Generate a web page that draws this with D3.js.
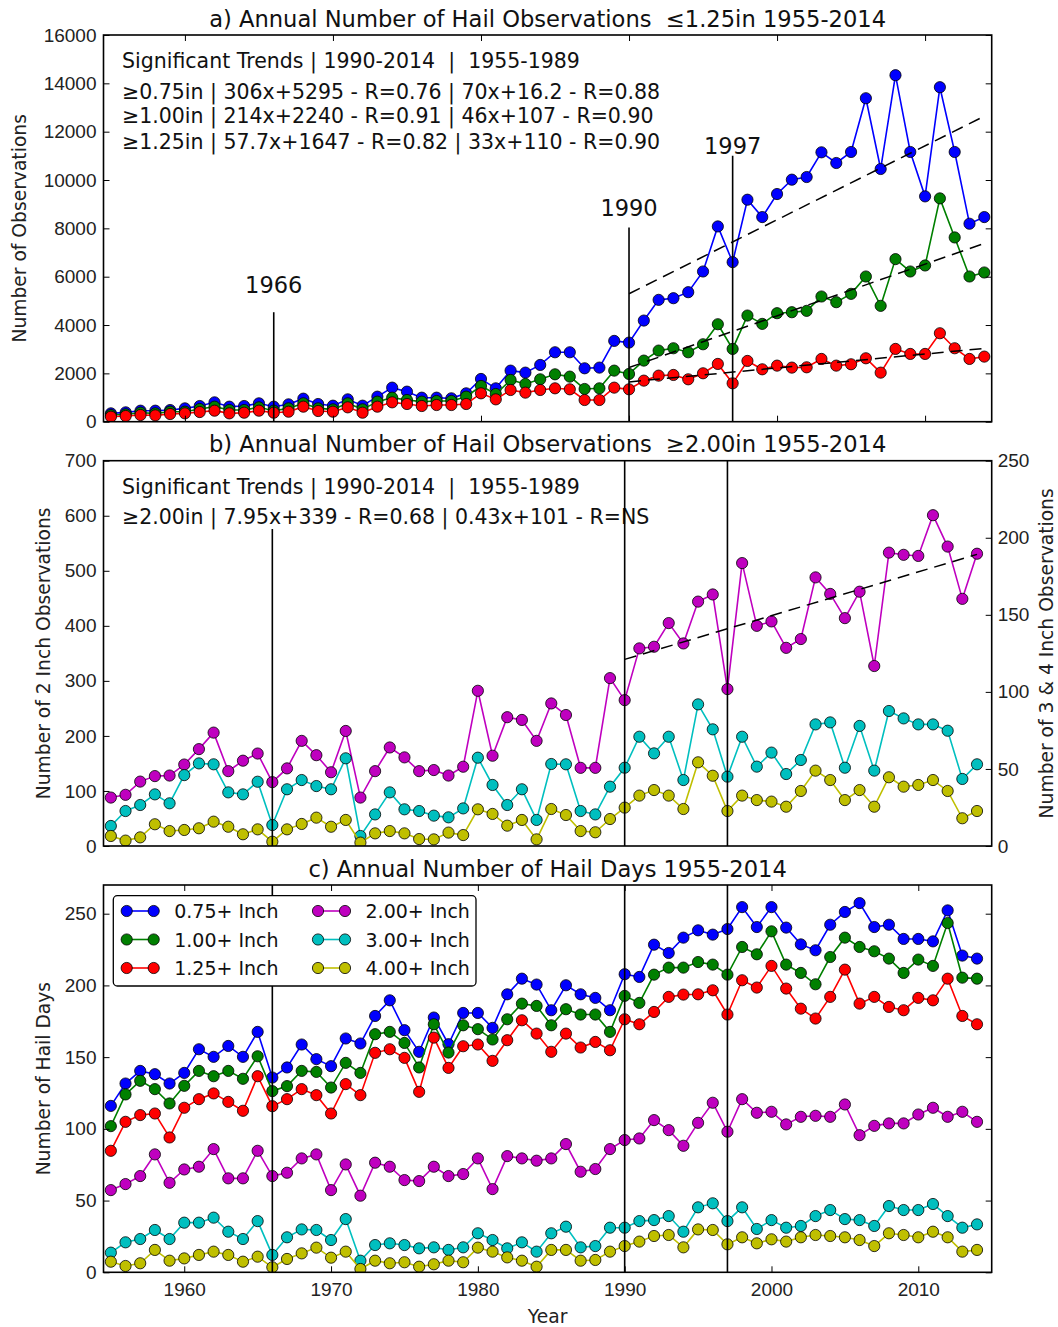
<!DOCTYPE html>
<html lang="en">
<head>
<meta charset="UTF-8">
<title>Annual Hail Observations 1955-2014</title>
<script src="https://d3js.org/d3.v7.min.js"></script>
<style>
  body { margin: 0; background: #fff; }
  svg { font-family: "DejaVu Sans", sans-serif; }
  .tick text { font-size: 19px; fill: #222; }
  .tick line { stroke: #000; stroke-width: 1; }
</style>
</head>
<body>
<div id="chart"></div>
<script>
// ---- data ----
const years = [1955,1956,1957,1958,1959,1960,1961,1962,1963,1964,
  1965,1966,1967,1968,1969,1970,1971,1972,1973,1974,
  1975,1976,1977,1978,1979,1980,1981,1982,1983,1984,
  1985,1986,1987,1988,1989,1990,1991,1992,1993,1994,
  1995,1996,1997,1998,1999,2000,2001,2002,2003,2004,
  2005,2006,2007,2008,2009,2010,2011,2012,2013,2014];

// a) observations
const obs075 = [345,387,456,456,483,552,649,801,622,649,
  760,622,718,953,732,663,925,663,1036,1409,
  1243,994,994,967,1174,1768,1381,2113,2030,2348,
  2873,2873,2210,2238,3343,3273,4185,5041,5110,5359,
  6215,8080,6602,9185,8467,9420,10014,10124,11146,10704,
  11160,13384,10456,14337,11160,9323,13840,11160,8191,8467];
const obs100 = [276,304,373,345,414,414,525,622,483,483,
  594,456,552,760,552,511,760,511,829,994,
  898,829,856,856,1036,1478,1146,1727,1561,1754,
  1961,1865,1354,1381,2113,1975,2528,2942,3039,2873,
  3204,4033,3011,4392,4047,4489,4530,4586,5180,4945,
  5290,6008,4793,6727,6215,6464,9240,7624,6008,6174];
const obs125 = [207,235,276,262,318,345,400,456,345,373,
  456,373,414,622,442,414,594,373,622,801,
  732,649,690,690,732,1174,925,1312,1202,1312,
  1381,1340,898,898,1409,1340,1699,1906,1934,1754,
  2003,2390,1588,2514,2168,2320,2238,2251,2597,2320,
  2376,2624,2030,3011,2804,2804,3660,3039,2597,2693];

// b) large hail observations (2in on left axis, 3 & 4in on right axis)
const obs200 = [88,93,117,127,128,148,176,206,136,155,
  168,116,141,191,165,134,209,88,136,179,
  161,136,138,128,144,282,164,234,229,191,
  259,238,142,142,305,265,359,362,405,368,
  444,457,285,514,400,408,360,376,488,458,
  414,462,327,533,529,527,601,544,449,531];
const obs300 = [13,22.7,26.6,33.5,27.7,46,53.6,53,34.8,33.5,
  41.7,13.6,36.8,42.8,38.9,36.8,56.9,6.5,20.5,34.8,
  23.8,22.7,19.7,18.6,24.4,57.3,39.6,26.6,36.8,16.9,
  53.2,53,22.7,20.5,38.5,50.8,70.9,60.1,70.9,42.8,
  91.9,75.7,45,70.9,51.5,60.6,46.7,55.8,78.9,80.2,
  50.8,77.9,48.9,87.6,82.8,78.9,78.9,74.8,43.5,53];
const obs400 = [6.5,3.5,5.6,14.1,9.7,10.4,11.5,15.8,12.5,7.6,
  10.8,2.8,10.8,14.3,18.4,12.5,16.9,2.2,8.2,9.7,
  8.2,4.5,4.3,8.7,7.1,23.8,20.8,13.2,16.9,4.3,
  24,20.1,9.7,8.9,17.5,24.9,32.7,36.3,32.7,24,
  54.3,45.6,22.7,32.7,29.8,28.8,25.5,35.7,48.9,42.8,
  29.8,36.3,25.5,44.6,38.5,39.6,42.8,35.7,18,22.7];

// c) hail days
const days075 = [116,131.6,140.4,138.1,131.6,139,155.5,150.2,157.8,150.2,
  167.6,135.8,142.8,158.8,148.6,143.7,163,159.5,178.7,189.6,
  168.8,153.7,177.6,159,180.8,180.8,170.4,193.8,204.7,200.6,
  182.7,200.1,193.8,191.3,182.7,207.8,205.9,228.4,222.6,233.3,
  238.4,235.4,239.3,254.6,240.7,254.6,240.3,228.6,224.5,242.3,
  251.2,257.4,240.7,242.3,232.4,232.4,230.7,252.3,220.8,218.7];
const days100 = [101.9,124,133.5,127.7,117.7,130,140.4,136.7,140.4,134.9,
  150.6,126.3,129.8,140.4,139.7,128.8,146,139,166,167.6,
  159.9,142.8,172.9,153.2,172.2,169.5,162.3,176.4,187.3,185.7,
  172.2,183.4,179.7,179.7,167.6,192.7,187.8,207.5,212.4,212.4,
  216.3,214.5,207.5,226.8,221.7,237.7,214.5,208.7,200.8,219.8,
  233.3,226.8,223.8,218.7,208.7,218,213.6,243.5,205.4,204.7];
const days125 = [84.7,104.9,109.6,110.7,94,114.7,120.7,124.7,118.8,112.6,
  136.7,115.8,120.7,127.7,123.5,110.7,131.2,123.5,153,155.5,
  149.5,125.8,163.6,142.5,157.6,158.8,147.4,161.8,175.7,166.4,
  153.7,166.4,156.7,160.6,154.8,176.4,172.9,181.5,192,193.6,
  193.8,196.6,179.7,203.6,198.5,213.6,197.8,183.8,176.9,192,
  211,187.3,192,185,182.7,191.3,189.6,204.7,178.7,172.9];
const days200 = [57.3,61.5,67.1,82.2,62.4,71.7,73.6,85.9,65.5,65.5,
  84.7,67.1,69.4,79.4,82.2,57.3,75.2,53.4,76.4,73.6,
  64.3,63.6,73.6,67.1,68.5,79.4,58,81,79.4,77.8,
  79.4,89.4,70.1,72,85.9,92.2,93.3,106.1,99.1,88.2,
  104.2,118.2,98,120.7,111.2,111.9,103.1,108.4,109.1,108.4,
  117,95.6,102.1,103.8,103.8,110,114.7,108.4,111.9,104.9];
const days300 = [13.7,20.9,23.2,29.5,23.2,34.6,34.6,38.1,28.3,23.2,
  35.7,12.1,24.4,29.9,29.5,22.5,37.1,8.1,19,20.2,
  19,16.7,17.4,15.6,17.4,27.2,22.5,16.7,20.9,14.4,
  27.2,31.8,17.4,18.3,31.1,31.1,35.7,36.4,39.2,28.3,
  45.3,48.1,35.7,45.3,30.2,36.4,31.1,32.3,39.2,43.4,
  37.1,36.4,32.3,46.2,43.4,43.4,47.6,39.2,31.1,33.4];
const days400 = [7.4,4.4,6.3,15.6,8.1,9.7,12.1,14.4,12.1,7.4,
  10.9,3.5,9.3,13.2,17.2,10.2,14.4,2.3,8.1,6.3,
  7,3.9,5.6,8.1,7,17.2,14.4,10.4,8.1,3.9,
  15.6,15.6,8.1,8.6,14.4,18.3,21.4,25.3,26,17.4,
  29.9,29.5,19.5,24.4,20.2,23,21.4,24.4,26,25.3,
  24.4,22.5,18.3,27.2,26,24.4,28.3,24.4,14.4,15.6];

// 1990-2014 trend fits (slope per year since 1990, intercept), as printed on the figure
const trendSlopeA = [306, 214, 57.7];
const trendInterceptA = [5295, 2240, 1647];
const trendSlopeB = [7.95];
const trendInterceptB = [339];
const trendYears = [1990, 2014];

const xTicks = [1960, 1970, 1980, 1990, 2000, 2010];
const markYears = [1966, 1990, 1997];
const markTopsA = [4530, 8040, 11000];   // where the marker lines stop in panel a
const markLabelA = [5330, 8520, 11090];
const markTopsB = [576, 700, 700];

const legendLabels = ["0.75+ Inch", "1.00+ Inch", "1.25+ Inch", "2.00+ Inch", "3.00+ Inch", "4.00+ Inch"];

const textA = [
  "Significant Trends | 1990-2014  |  1955-1989",
  "\u22650.75in | 306x+5295 - R=0.76 | 70x+16.2 - R=0.88",
  "\u22651.00in | 214x+2240 - R=0.91 | 46x+107 - R=0.90",
  "\u22651.25in | 57.7x+1647 - R=0.82 | 33x+110 - R=0.90"
];
const textB = [
  "Significant Trends | 1990-2014  |  1955-1989",
  "\u22652.00in | 7.95x+339 - R=0.68 | 0.43x+101 - R=NS"
];

// ---- layout ----
const col = { b: "#0000ff", g: "#008000", r: "#ff0000", m: "#bf00bf", c: "#00bfbf", y: "#bfbf00" };
const L = 103.5, R = 991.7;

const svg = d3.select("#chart").append("svg")
    .attr("width", 1058)
    .attr("height", 1327);

function frame(id, top, bottom) {
    svg.append("clipPath").attr("id", id)
        .append("rect").attr("x", L).attr("y", top).attr("width", R - L).attr("height", bottom - top);
}

function series(x, y, values, color, clip) {
    const g = svg.append("g").attr("clip-path", `url(#${clip})`);
    const pts = years.map((yr, i) => [yr, values[i]]);
    g.append("path")
        .datum(pts)
        .attr("fill", "none")
        .attr("stroke", color)
        .attr("stroke-width", 1.6)
        .attr("d", d3.line().x(d => x(d[0])).y(d => y(d[1])));
    g.selectAll("circle")
        .data(pts)
        .enter().append("circle")
        .attr("cx", d => x(d[0]))
        .attr("cy", d => y(d[1]))
        .attr("r", 5.6)
        .attr("fill", color)
        .attr("stroke", "#000")
        .attr("stroke-width", 0.8);
}

function box(top, bottom) {
    svg.append("rect")
        .attr("x", L).attr("y", top)
        .attr("width", R - L).attr("height", bottom - top)
        .attr("fill", "none").attr("stroke", "#000").attr("stroke-width", 1.6);
}

function cleanAxis(g) {
    g.select(".domain").remove();
}

function title(txt, y) {
    svg.append("text").attr("x", (L + R) / 2).attr("y", y)
        .attr("text-anchor", "middle").attr("font-size", 22.6).attr("fill", "#111")
        .style("white-space", "pre")
        .text(txt);
}

function yLabel(txt, x, cy) {
    svg.append("text")
        .attr("transform", `translate(${x},${cy}) rotate(-90)`)
        .attr("text-anchor", "middle").attr("font-size", 18.7).attr("fill", "#222")
        .text(txt);
}

function trend(x, y, slope, icpt) {
    svg.append("path")
        .datum(trendYears)
        .attr("fill", "none")
        .attr("stroke", "#000")
        .attr("stroke-width", 1.5)
        .attr("stroke-dasharray", "12,7")
        .attr("d", d3.line().x(d => x(d)).y(d => y(slope * (d - 1990) + icpt)));
}

function note(lines, ys) {
    lines.forEach((t, i) => {
        svg.append("text").attr("x", 122).attr("y", ys[i])
            .attr("font-size", 20.5).attr("fill", "#111")
            .style("white-space", "pre").text(t);
    });
}

// ---- panel a ----
const aTop = 35, aBot = 421.7;
const xA = d3.scaleLinear().domain([1954.5, 2014.5]).range([L, R]);
const yA = d3.scaleLinear().domain([0, 16000]).range([aBot, aTop]);
frame("clipA", aTop, aBot);

series(xA, yA, obs075, col.b, "clipA");
series(xA, yA, obs100, col.g, "clipA");
series(xA, yA, obs125, col.r, "clipA");
trendSlopeA.forEach((s, i) => trend(xA, yA, s, trendInterceptA[i]));

markYears.forEach((yr, i) => {
    svg.append("line")
        .attr("x1", xA(yr)).attr("x2", xA(yr))
        .attr("y1", yA(0)).attr("y2", yA(markTopsA[i]))
        .attr("stroke", "#000").attr("stroke-width", 1.6);
    svg.append("text")
        .attr("x", xA(yr)).attr("y", yA(markLabelA[i]))
        .attr("text-anchor", "middle").attr("font-size", 22.5).attr("fill", "#111")
        .text(yr);
});

svg.append("g").attr("transform", `translate(${L},0)`)
    .call(d3.axisLeft(yA).tickValues(d3.range(0, 16001, 2000)).tickFormat(d3.format("d")).tickSize(-6).tickPadding(7))
    .call(cleanAxis);
svg.append("g").attr("transform", `translate(${R},0)`)
    .call(d3.axisRight(yA).tickValues(d3.range(0, 16001, 2000)).tickFormat("").tickSize(-6))
    .call(cleanAxis);
svg.append("g").attr("transform", `translate(0,${aTop})`)
    .call(d3.axisTop(xA).tickValues(xTicks).tickFormat("").tickSize(-6))
    .call(cleanAxis);
svg.append("g").attr("transform", `translate(0,${aBot})`)
    .call(d3.axisBottom(xA).tickValues(xTicks).tickFormat("").tickSize(-6))
    .call(cleanAxis);
box(aTop, aBot);

note(textA, [68.3, 99.3, 122.7, 149.3]);
title("a) Annual Number of Hail Observations  \u22641.25in 1955-2014", 26.5);
yLabel("Number of Observations", 26, (aTop + aBot) / 2);

// ---- panel b ----
const bTop = 460.7, bBot = 846;
const xB = d3.scaleLinear().domain([1954.5, 2015]).range([L, R]);
const yB = d3.scaleLinear().domain([0, 700]).range([bBot, bTop]);
const yB2 = d3.scaleLinear().domain([0, 250]).range([bBot, bTop]);
frame("clipB", bTop, bBot);

series(xB, yB, obs200, col.m, "clipB");
series(xB, yB2, obs300, col.c, "clipB");
series(xB, yB2, obs400, col.y, "clipB");
trendSlopeB.forEach((s, i) => trend(xB, yB, s, trendInterceptB[i]));

note(textB, [494, 524.3]);

markYears.forEach((yr, i) => {
    svg.append("line")
        .attr("x1", xB(yr)).attr("x2", xB(yr))
        .attr("y1", yB(0)).attr("y2", yB(markTopsB[i]))
        .attr("stroke", "#000").attr("stroke-width", 1.6);
});

svg.append("g").attr("transform", `translate(${L},0)`)
    .call(d3.axisLeft(yB).tickValues(d3.range(0, 701, 100)).tickSize(-6).tickPadding(7))
    .call(cleanAxis);
svg.append("g").attr("transform", `translate(${R},0)`)
    .call(d3.axisRight(yB2).tickValues(d3.range(0, 251, 50)).tickSize(-6).tickPadding(6))
    .call(cleanAxis);
box(bTop, bBot);

title("b) Annual Number of Hail Observations  \u22652.00in 1955-2014", 451.7);
yLabel("Number of 2 Inch Observations", 50, (bTop + bBot) / 2);
yLabel("Number of 3 & 4 Inch Observations", 1053, (bTop + bBot) / 2);

// ---- panel c ----
const cTop = 885, cBot = 1272.3;
const xC = d3.scaleLinear().domain([1954.5, 2015]).range([L, R]);
const yC = d3.scaleLinear().domain([0, 270]).range([cBot, cTop]);
frame("clipC", cTop, cBot);

const daySeries = [days075, days100, days125, days200, days300, days400];
const dayColors = [col.b, col.g, col.r, col.m, col.c, col.y];
daySeries.forEach((s, i) => series(xC, yC, s, dayColors[i], "clipC"));

markYears.forEach(yr => {
    svg.append("line")
        .attr("x1", xC(yr)).attr("x2", xC(yr))
        .attr("y1", cBot).attr("y2", cTop)
        .attr("stroke", "#000").attr("stroke-width", 1.6);
});

svg.append("g").attr("transform", `translate(${L},0)`)
    .call(d3.axisLeft(yC).tickValues(d3.range(0, 251, 50)).tickSize(-6).tickPadding(7))
    .call(cleanAxis);
svg.append("g").attr("transform", `translate(${R},0)`)
    .call(d3.axisRight(yC).tickValues(d3.range(0, 251, 50)).tickFormat("").tickSize(-6))
    .call(cleanAxis);
svg.append("g").attr("transform", `translate(0,${cTop})`)
    .call(d3.axisTop(xC).tickValues(xTicks).tickFormat("").tickSize(-6))
    .call(cleanAxis);
svg.append("g").attr("transform", `translate(0,${cBot})`)
    .call(d3.axisBottom(xC).tickValues(xTicks).tickFormat(d3.format("d")).tickSize(-6).tickPadding(10))
    .call(cleanAxis);
box(cTop, cBot);

// legend
const lg = svg.append("g");
lg.append("rect")
    .attr("x", 113.3).attr("y", 895.7).attr("width", 362.7).attr("height", 90.3)
    .attr("rx", 4).attr("fill", "#fff").attr("stroke", "#000").attr("stroke-width", 1.3);
legendLabels.forEach((lab, i) => {
    const cx = i < 3 ? 126.7 : 318;
    const cy = 911 + (i % 3) * 28.5;
    lg.append("line").attr("x1", cx).attr("x2", cx + 27).attr("y1", cy).attr("y2", cy)
        .attr("stroke", dayColors[i]).attr("stroke-width", 1.6);
    [cx, cx + 27].forEach(px => {
        lg.append("circle").attr("cx", px).attr("cy", cy).attr("r", 5.6)
            .attr("fill", dayColors[i]).attr("stroke", "#000").attr("stroke-width", 0.8);
    });
    lg.append("text").attr("x", cx + 47.5).attr("y", cy + 7)
        .attr("font-size", 19).attr("fill", "#111").text(lab);
});

title("c) Annual Number of Hail Days 1955-2014", 876.7);
yLabel("Number of Hail Days", 50, (cTop + cBot) / 2);
svg.append("text").attr("x", (L + R) / 2).attr("y", 1323)
    .attr("text-anchor", "middle").attr("font-size", 18.7).attr("fill", "#222").text("Year");
</script>
</body>
</html>
